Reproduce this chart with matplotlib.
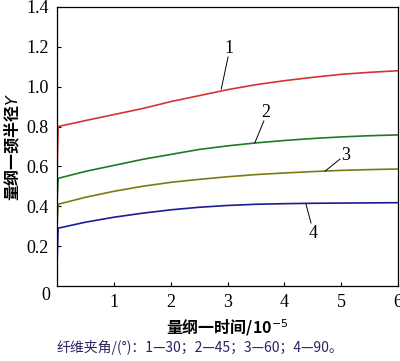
import matplotlib
matplotlib.use("Agg")
import matplotlib.pyplot as plt

# dimensionless time (x 1e-5) and neck radius for the four fibre angles
t = [0, 0.02, 0.5, 1, 1.5, 2, 2.5, 3, 3.5, 4, 4.5, 5, 5.5, 6]
y30 = [0.55, 0.80, 0.83, 0.86, 0.89, 0.925, 0.955, 0.985, 1.01, 1.03, 1.047, 1.062, 1.072, 1.08]
y45 = [0.42, 0.54, 0.575, 0.605, 0.635, 0.66, 0.685, 0.703, 0.718, 0.73, 0.74, 0.748, 0.754, 0.758]
y60 = [0.30, 0.41, 0.445, 0.475, 0.50, 0.52, 0.535, 0.548, 0.559, 0.567, 0.574, 0.58, 0.584, 0.587]
y90 = [0.10, 0.29, 0.32, 0.345, 0.365, 0.382, 0.395, 0.404, 0.41, 0.413, 0.415, 0.416, 0.417, 0.418]

series = [y30, y45, y60, y90]
colors = ["#d03535", "#1f7a24", "#7d7a15", "#1c1c94"]
labels = ["1", "2", "3", "4"]
# label text position, pointer start, pointer end (data coords)
label_pos = [(3.03, 1.19), (3.68, 0.87), (5.07, 0.655), (4.50, 0.265)]
ptr_from = [(3.01, 1.149), (3.64, 0.828), (4.98, 0.637), (4.47, 0.316)]
ptr_to = [(2.89, 0.988), (3.48, 0.718), (4.72, 0.577), (4.38, 0.411)]

xticks = [1, 2, 3, 4, 5, 6]
yticks = [0.2, 0.4, 0.6, 0.8, 1.0, 1.2, 1.4]

serif = "Liberation Serif"
cjk = ["Noto Sans CJK SC", "DejaVu Sans"]

fig = plt.figure(figsize=(4.0, 3.61), dpi=100)
ax = fig.add_axes([0.1425, 0.2078, 0.8525, 0.7729])

for ys, c in zip(series, colors):
    ax.plot(t, ys, color=c, lw=1.2)

for lab, p, a, b in zip(labels, label_pos, ptr_from, ptr_to):
    ax.plot([a[0], b[0]], [a[1], b[1]], color="black", lw=0.7)
    ax.text(p[0], p[1], lab, ha="center", va="center", fontsize=13, family=serif)

ax.set_xlim(0, 6)
ax.set_ylim(0, 1.4)
ax.set_xticks(xticks)
ax.set_xticklabels([str(v) for v in xticks], family=serif, fontsize=13)
ax.set_yticks(yticks)
ax.set_yticklabels(["%.1f" % v for v in yticks], family=serif, fontsize=13)
ax.tick_params(direction="in", length=3, width=0.8, pad=6)
ax.text(-0.02, -0.035, "0", transform=ax.transAxes, ha="right", va="center",
        family=serif, fontsize=13)
for s in ax.spines.values():
    s.set_linewidth(0.9)

ax.set_xlabel("量纲一时间/10$^{-5}$", family=cjk, fontsize=11.5, fontweight="bold", labelpad=4)
ax.set_ylabel("量纲一颈半径$\\mathit{Y}$", family=cjk, fontsize=11.5, fontweight="bold", labelpad=3)

fig.text(0.5, 0.038, "纤维夹角/(°)：1—30；2—45；3—60；4—90。", ha="center", va="center",
         family=cjk, fontsize=10, color="#2a2160")

fig.savefig("out.png", dpi=100)
